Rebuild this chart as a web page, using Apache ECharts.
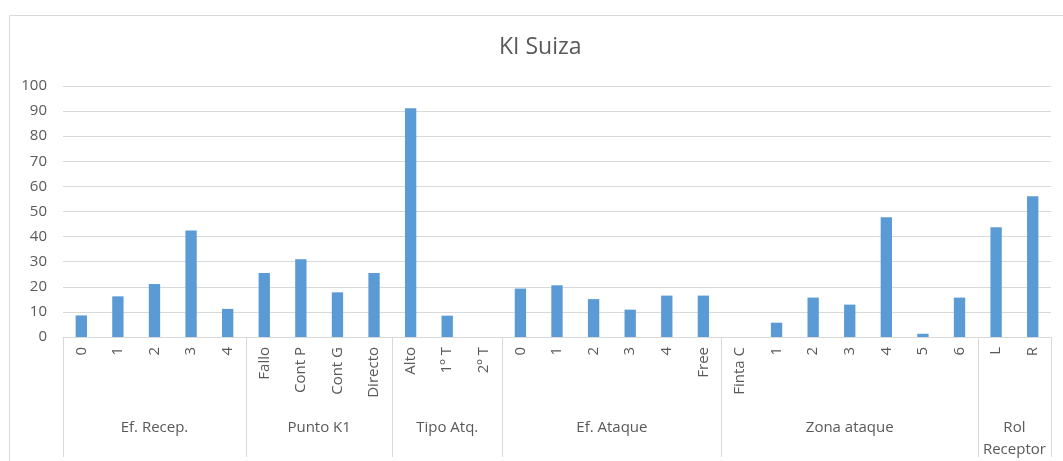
<!DOCTYPE html>
<html>
<head>
<meta charset="utf-8">
<script src="https://cdn.jsdelivr.net/npm/echarts@6/dist/echarts.min.js"></script>
<style>
  html, body { margin: 0; padding: 0; background: #ffffff; }
  #chart { width: 1063px; height: 461px; }
</style>
</head>
<body>
<div id="chart"></div>
<script>
// datos
const chartTitle = 'KI Suiza'
const groupNames = ['Ef. Recep.', 'Punto K1', 'Tipo Atq.', 'Ef. Ataque', 'Zona ataque', 'Rol\nReceptor']

const recepCats = ['0', '1', '2', '3', '4']
const recepVals = [8.6, 16.2, 21.1, 42.4, 11.2]

const puntoCats = ['Fallo', 'Cont P', 'Cont G', 'Directo']
const puntoVals = [25.5, 31.0, 17.8, 25.5]

const tipoCats = ['Alto', '1º T', '2º T']
const tipoVals = [91.1, 8.5, 0]

const ataqueCats = ['0', '1', '2', '3', '4', 'Free']
const ataqueVals = [19.3, 20.6, 15.1, 10.9, 16.5, 16.5]

const zonaCats = ['Finta C', '1', '2', '3', '4', '5', '6']
const zonaVals = [0, 5.7, 15.7, 12.9, 47.7, 1.3, 15.7]

const rolCats = ['L', 'R']
const rolVals = [43.7, 56.1]

const yTicks = { min: 0, max: 100, interval: 10 }

const groupCats = [recepCats, puntoCats, tipoCats, ataqueCats, zonaCats, rolCats]
const groupVals = [recepVals, puntoVals, tipoVals, ataqueVals, zonaVals, rolVals]

let categories = []
let values = []
let bounds = [0]
let mids = []
let midNames = {}
for (let g = 0; g < groupCats.length; g++) {
    categories = categories.concat(groupCats[g])
    values = values.concat(groupVals[g])
    let start = bounds[bounds.length - 1]
    let end = start + groupCats[g].length
    bounds.push(end)
    mids.push((start + end) / 2)
    midNames[(start + end) / 2] = groupNames[g]
}

const textColor = '#595959'
const lineColor = '#d9d9d9'
const fontFamily = '"Open Sans", "DejaVu Sans", sans-serif'

let chart = echarts.init(document.getElementById('chart'))
let option = {
    animation: false,
    backgroundColor: '#ffffff',
    title: {
        text: chartTitle,
        left: 494,
        top: 31,
        textStyle: { color: textColor, fontSize: 23, fontWeight: 'normal', fontFamily: fontFamily }
    },
    graphic: [{
        type: 'rect',
        left: 7,
        top: 13,
        shape: { width: 1080, height: 480 },
        style: { fill: null, stroke: lineColor, lineWidth: 1 },
        silent: true
    }],
    grid: { left: 63, right: 12, top: 86, bottom: 124 },
    xAxis: [{
        type: 'category',
        data: categories,
        position: 'bottom',
        axisLine: { lineStyle: { color: lineColor } },
        axisTick: { show: false },
        axisLabel: {
            interval: 0,
            rotate: 90,
            margin: 10,
            color: textColor,
            fontSize: 15,
            fontFamily: fontFamily
        },
        splitLine: { show: false }
    }, {
        // segundo nivel: grupos
        type: 'value',
        min: 0,
        max: categories.length,
        position: 'bottom',
        axisLine: { show: false },
        axisTick: {
            show: true,
            customValues: bounds,
            length: 120,
            lineStyle: { color: lineColor }
        },
        axisLabel: {
            customValues: mids,
            margin: 80,
            lineHeight: 22,
            color: textColor,
            fontSize: 15,
            fontFamily: fontFamily,
            formatter: function (v) { return midNames[v] || '' }
        },
        splitLine: { show: false }
    }],
    yAxis: {
        type: 'value',
        min: yTicks.min,
        max: yTicks.max,
        interval: yTicks.interval,
        axisLine: { show: false },
        axisTick: { show: false },
        axisLabel: { color: textColor, fontSize: 15, margin: 16, fontFamily: fontFamily },
        splitLine: { lineStyle: { color: lineColor } }
    },
    series: [{
        type: 'bar',
        xAxisIndex: 0,
        data: values,
        barWidth: '31%',
        itemStyle: { color: '#5b9bd5' }
    }]
}
chart.setOption(option)
</script>
</body>
</html>
